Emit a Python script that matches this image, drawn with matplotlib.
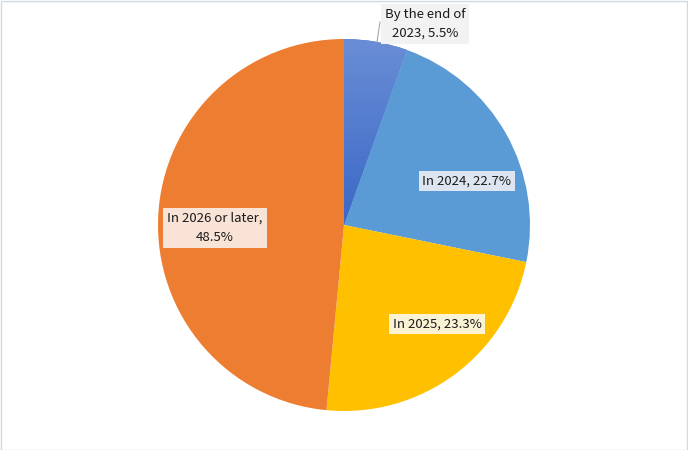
import matplotlib
matplotlib.use("Agg")
import matplotlib.pyplot as plt
import numpy as np
from matplotlib.colors import LinearSegmentedColormap

labels = ["By the end of\n2023", "In 2024", "In 2025", "In 2026 or later,\n"]
values = [5.5, 22.7, 23.3, 48.5]
colors = ["#4A78CC", "#5B9BD5", "#FFC000", "#ED7D31"]
box_colors = ["#F2F2F2", "#DDE6F0", "#FCF2D4", "#F9E3D6"]

plt.rcParams['font.family'] = ['Noto Sans CJK JP', 'DejaVu Sans']

W, H = 688, 450
R = 186.0
cx, cy = 344, 225

fig = plt.figure(figsize=(W/100, H/100), dpi=100)
ax = fig.add_axes([0, 0, 1, 1])

wedges, _ = ax.pie(values, colors=colors, startangle=90, counterclock=False,
                   radius=1.0, center=(0, 0), frame=True)
ax.set_xlim(-cx/R, (W-cx)/R)
ax.set_ylim(-(H-cy)/R, cy/R)
ax.set_aspect('equal')
ax.axis('off')

# gradient on first wedge
grad = np.linspace(0, 1, 256).reshape(-1, 1)
cmap = LinearSegmentedColormap.from_list("g", ["#3A68C6", "#6A8ED6"])
im = ax.imshow(grad, cmap=cmap, extent=[0, 0.4, 0, 1.0], origin='lower',
               aspect='auto', zorder=wedges[0].get_zorder()+0.1)
im.set_clip_path(wedges[0])

def pos(px, py):
    return ((px - cx)/R, (cy - py)/R)

texts = [f"{labels[0]}, {values[0]}%", f"{labels[1]}, {values[1]}%",
         f"{labels[2]}, {values[2]}%", f"{labels[3]}{values[3]}%"]
text_px = [(425, 24), (467, 181), (437, 324), (215, 228)]
for t, (px, py), bc in zip(texts, text_px, box_colors):
    x, y = pos(px, py)
    ax.text(x, y, t, ha='center', va='center', fontsize=9.5, color='#1a1a1a',
            linespacing=1.6,
            bbox=dict(boxstyle='square,pad=0.3', fc=bc, ec='none'), zorder=10)

# leader line
x0, y0 = pos(377, 42)
x1, y1 = pos(380, 22)
ax.plot([x0, x1], [y0, y1], color='#A6A6A6', lw=0.8, zorder=9)

# figure border
fig.patches.append(plt.Rectangle((0.5/W, 0.5/H), 1-1.5/W, 1-1.5/H, transform=fig.transFigure,
                                 fill=False, ec='#D0D7E5', lw=1))

fig.savefig("out.png", dpi=100)
